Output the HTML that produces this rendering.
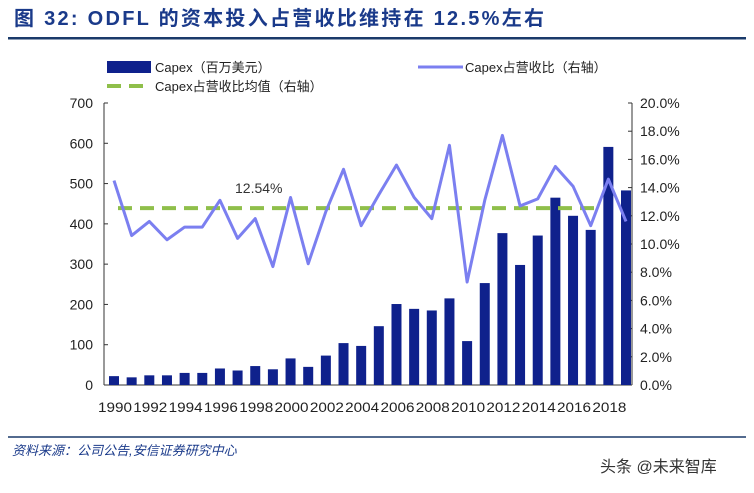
<!DOCTYPE html>
<html><head><meta charset="utf-8"><style>
body{margin:0;background:#fff;width:754px;height:488px;overflow:hidden;font-family:"Liberation Sans","Noto Sans CJK SC",sans-serif}
</style></head><body>
<svg width="754" height="488" xmlns="http://www.w3.org/2000/svg">
<text x="14" y="25" font-size="20" font-weight="bold" fill="#1a3a8a" textLength="530" lengthAdjust="spacing" font-family="Liberation Sans,Noto Sans CJK SC,sans-serif">图 32:  ODFL 的资本投入占营收比维持在 12.5%左右</text>
<rect x="8" y="37" width="738" height="2.5" fill="#1a3a6a"/>
<g font-size="13" fill="#222">
<rect x="107" y="61" width="44" height="12" fill="#0f218c"/>
<text x="155" y="72">Capex（百万美元）</text>
<line x1="418" y1="67" x2="463" y2="67" stroke="#7b7ff0" stroke-width="3"/>
<text x="465" y="72">Capex占营收比（右轴）</text>
<line x1="107" y1="86" x2="151" y2="86" stroke="#8fbf4a" stroke-width="4" stroke-dasharray="14,8"/>
<text x="155" y="91">Capex占营收比均值（右轴）</text>
</g>
<g id="plot"></g>
<line x1="8" y1="437" x2="746" y2="437" stroke="#1a3a6a" stroke-width="1.5"/>
<text x="12" y="455" font-size="13" font-style="italic" fill="#1a3a8a">资料来源：公司公告,安信证券研究中心</text>
<text x="600" y="472" font-size="16" fill="#333">头条 @未来智库</text>
</svg>
<script>
const years=[1990,1991,1992,1993,1994,1995,1996,1997,1998,1999,2000,2001,2002,2003,2004,2005,2006,2007,2008,2009,2010,2011,2012,2013,2014,2015,2016,2017,2018,2019];
const capex=[22,19,24,24,30,30,41,36,47,39,66,45,73,104,97,146,201,189,185,215,109,253,377,298,371,465,420,385,591,483];
const ratio=[14.5,10.6,11.6,10.3,11.2,11.2,13.1,10.4,11.8,8.4,13.3,8.6,12.3,15.3,11.3,13.5,15.6,13.3,11.8,17.0,7.3,13.1,17.7,12.7,13.2,15.5,14.1,11.3,14.6,11.6];
const meanRatio=12.54;
const leftTicks=[0,100,200,300,400,500,600,700];
const rightTicks=[0,2,4,6,8,10,12,14,16,18,20];
const NS="http://www.w3.org/2000/svg";
const g=document.getElementById('plot');
const y0=385,yTop=103,xL=104,xR=632,x0=114,step=(626-114)/29;
const yL=v=>y0-(v/700)*(y0-yTop);
const yR=v=>y0-(v/20)*(y0-yTop);
const xI=i=>x0+i*step;
function mk(t,a){const e=document.createElementNS(NS,t);for(const k in a)e.setAttribute(k,a[k]);g.appendChild(e);return e;}
let e;
e=mk('line',{x1:xL,y1:yTop,x2:xL,y2:y0,stroke:'#333'});


e=mk('line',{x1:xR,y1:yTop,x2:xR,y2:y0,stroke:'#333'});


e=mk('line',{x1:xL,y1:y0,x2:xR,y2:y0,stroke:'#333'});


leftTicks.forEach(v=>{
 e=mk('line',{x1:xL,y1:yL(v),x2:xL+4,y2:yL(v),stroke:'#333'});
 
 
 e=mk('text',{x:93,y:yL(v)+5,'font-size':14,'text-anchor':'end',fill:'#222'});e.textContent=v;
 
 
});
rightTicks.forEach(v=>{
 e=mk('line',{x1:xR-4,y1:yR(v),x2:xR,y2:yR(v),stroke:'#333'});
 
 
 e=mk('text',{x:640,y:yR(v)+5,'font-size':14,fill:'#222'});e.textContent=v.toFixed(1)+'%';
 
 
});
years.forEach((yr,i)=>{
 e=mk('rect',{x:xI(i)-5,y:yL(capex[i]),width:10,height:y0-yL(capex[i]),fill:'#0f218c'});
 
 
 if(yr%2===0){
  e=mk('text',{x:xI(i)+1,y:412,'font-size':13.5,'text-anchor':'middle',fill:'#222',textLength:34,lengthAdjust:'spacingAndGlyphs'});e.textContent=yr;
  
  
 }
});
e=mk('line',{x1:xI(0)+4,y1:yR(meanRatio),x2:xI(28)-10,y2:yR(meanRatio),stroke:'#8fbf4a','stroke-width':4,'stroke-dasharray':'14,8'});


e=mk('polyline',{points:ratio.map((v,i)=>xI(i)+','+yR(v)).join(' '),fill:'none',stroke:'#7b7ff0','stroke-width':3,'stroke-linejoin':'round'});


e=mk('text',{x:235,y:yR(meanRatio)-15,'font-size':14,fill:'#333'});e.textContent=meanRatio.toFixed(2)+'%';


</script>
</body></html>
